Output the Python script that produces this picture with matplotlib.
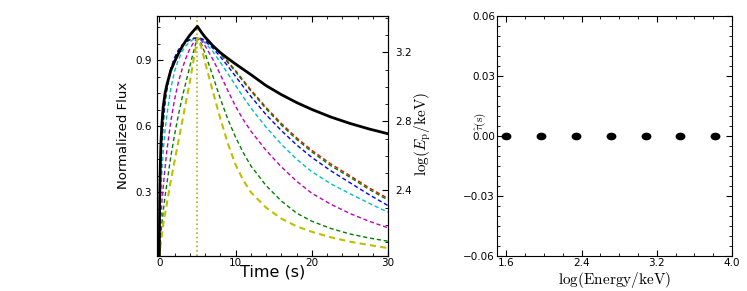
import matplotlib
matplotlib.use("Agg")
import matplotlib.pyplot as plt
from matplotlib.ticker import MultipleLocator
from matplotlib.markers import MarkerStyle
from matplotlib.transforms import Affine2D

plt.rcParams['mathtext.fontset'] = 'cm'
plt.rcParams['font.family'] = ['DejaVu Sans']

# ---------------- podaci (ocitano sa slike) ----------------
peak_time = 5.0

# vrijeme za krivulje svjetlosti
t_curve = [0, 0.05, 0.1, 0.2, 0.35, 0.5, 0.75, 1, 1.5, 2, 2.5, 3, 3.5, 4, 4.5,
           5, 5.5, 6, 7, 8, 9, 10, 11, 12, 14, 16, 18, 20, 22.5, 25, 27.5, 30]

flux_red = [0, 0.18, 0.30, 0.42, 0.55, 0.63, 0.72, 0.78, 0.86, 0.91, 0.945,
            0.968, 0.983, 0.993, 0.998, 1.0, 0.998, 0.99, 0.965, 0.93, 0.892,
            0.852, 0.808, 0.765, 0.685, 0.612, 0.547, 0.49, 0.428, 0.375,
            0.32, 0.271]
flux_green1 = [0, 0.16, 0.27, 0.39, 0.52, 0.60, 0.70, 0.765, 0.85, 0.90, 0.94,
               0.965, 0.981, 0.992, 0.998, 1.0, 0.997, 0.988, 0.962, 0.927,
               0.888, 0.847, 0.803, 0.76, 0.679, 0.605, 0.54, 0.483, 0.42,
               0.368, 0.313, 0.264]
flux_blue = [0, 0.18, 0.30, 0.42, 0.55, 0.63, 0.72, 0.78, 0.86, 0.91, 0.945,
             0.968, 0.983, 0.993, 0.998, 1.0, 0.996, 0.985, 0.955, 0.915,
             0.872, 0.826, 0.78, 0.735, 0.652, 0.58, 0.515, 0.458, 0.397,
             0.343, 0.289, 0.239]
flux_cyan = [0, 0.10, 0.18, 0.29, 0.40, 0.48, 0.58, 0.65, 0.77, 0.85, 0.90,
             0.94, 0.965, 0.983, 0.995, 1.0, 0.993, 0.978, 0.94, 0.89, 0.838,
             0.785, 0.733, 0.683, 0.595, 0.518, 0.45, 0.393, 0.338, 0.293,
             0.25, 0.209]
flux_magenta = [0, 0.05, 0.10, 0.18, 0.26, 0.32, 0.41, 0.49, 0.62, 0.72, 0.80,
                0.86, 0.91, 0.95, 0.98, 1.0, 0.99, 0.965, 0.905, 0.835, 0.76,
                0.69, 0.63, 0.578, 0.49, 0.415, 0.35, 0.295, 0.245, 0.203,
                0.168, 0.138]
flux_green2 = [0, 0.03, 0.06, 0.11, 0.16, 0.21, 0.28, 0.34, 0.46, 0.56, 0.65,
               0.73, 0.80, 0.87, 0.94, 1.0, 0.975, 0.93, 0.83, 0.725, 0.63,
               0.55, 0.48, 0.42, 0.33, 0.26, 0.205, 0.168, 0.135, 0.11,
               0.092, 0.077]
flux_yellow = [0, 0.02, 0.04, 0.07, 0.11, 0.15, 0.20, 0.25, 0.35, 0.44, 0.53,
               0.62, 0.71, 0.80, 0.90, 1.0, 0.96, 0.89, 0.76, 0.635, 0.52,
               0.425, 0.355, 0.30, 0.23, 0.18, 0.145, 0.12, 0.095, 0.075,
               0.06, 0.046]

krivulje = [flux_red, flux_green1, flux_blue, flux_cyan,
            flux_magenta, flux_green2, flux_yellow]
boje = ['r', 'g', 'b', 'c', 'm', 'g', 'y']

# log(Ep/keV) - crna krivulja
t_ep = [0, 0.02, 0.05, 0.1, 0.2, 0.3, 0.5, 0.75, 1, 1.5, 2, 2.5, 3, 3.5, 4,
        4.5, 5, 5.5, 6, 7, 8, 9, 10, 12, 14, 16, 18, 20, 22.5, 25, 27.5, 30]
log_ep = [2.019, 2.190, 2.343, 2.487, 2.655, 2.759, 2.880, 2.961, 3.013,
          3.094, 3.146, 3.192, 3.233, 3.268, 3.299, 3.325, 3.350, 3.317,
          3.288, 3.239, 3.198, 3.164, 3.132, 3.071, 3.007, 2.955, 2.909,
          2.869, 2.825, 2.788, 2.756, 2.728]

# desni panel: kasnjenje po energiji
log_energy = [1.60, 1.97, 2.34, 2.71, 3.08, 3.45, 3.82]
tau_hat = [0.0, 0.0, 0.0, 0.0, 0.0, 0.0, 0.0]

# ---------------- crtanje ----------------
fig = plt.figure(figsize=(7.47, 2.91), dpi=100)

ax1 = fig.add_axes([0.2102, 0.1203, 0.3092, 0.8247])
ax1b = ax1.twinx()

for flux, boja in zip(krivulje, boje):
    lw = 1.5 if boja == 'y' else 1.0
    ax1.plot(t_curve, flux, color=boja, ls=(0, (3, 2)), lw=lw)

ax1.axvline(peak_time, color='#b0b020', ls=':', lw=1.2)
ax1b.plot(t_ep, log_ep, color='k', lw=2.0)

ax1.set_xlim(-0.3, 30)
ax1.set_ylim(0.01, 1.1)
ax1b.set_ylim(2.02, 3.41)

ax1.set_xticks([0, 10, 20, 30])
ax1.set_yticks([0.3, 0.6, 0.9])
ax1.xaxis.set_minor_locator(MultipleLocator(2))
ax1.yaxis.set_minor_locator(MultipleLocator(0.075))
ax1b.set_yticks([2.4, 2.8, 3.2])
ax1b.yaxis.set_minor_locator(MultipleLocator(0.1))

ax1.tick_params(which='both', direction='in', top=True, right=False,
                labelsize=7.5)
ax1.tick_params(axis='x', pad=1.5)
ax1.tick_params(axis='y', pad=3.5)
ax1.tick_params(which='major', length=4)
ax1.tick_params(which='minor', length=2)
ax1b.tick_params(which='both', direction='in', labelsize=7.5, pad=5)
ax1b.tick_params(which='major', length=4)
ax1b.tick_params(which='minor', length=2)

ax1.set_xlabel("Time (s)", fontsize=11.5)
ax1.xaxis.set_label_coords(0.499, -0.035)
ax1.set_ylabel("Normalized Flux", fontsize=9.5)
ax1.yaxis.set_label_coords(-0.117, 0.502)
ax1b.set_ylabel(r'$\log(E_{\rm p}/{\rm keV})$', fontsize=11)
ax1b.yaxis.set_label_coords(1.108, 0.508)

# desni panel
ax2 = fig.add_axes([0.6653, 0.1203, 0.3146, 0.8247])
elipsa = MarkerStyle('o', transform=Affine2D().scale(1.35, 1.0))
ax2.plot(log_energy, tau_hat, ls='none', marker=elipsa, ms=4.5,
         color='k', mec='k')
ax2.set_xlim(1.5, 4.0)
ax2.set_ylim(-0.06, 0.06)
ax2.set_xticks([1.6, 2.4, 3.2, 4.0])
ax2.set_yticks([-0.06, -0.03, 0.0, 0.03, 0.06])
ax2.xaxis.set_minor_locator(MultipleLocator(0.2))
ax2.yaxis.set_minor_locator(MultipleLocator(0.005))
ax2.tick_params(which='both', direction='in', top=True, right=True,
                labelsize=7.5)
ax2.tick_params(axis='x', pad=1.5)
ax2.tick_params(axis='y', pad=1.5)
ax2.tick_params(which='major', length=4)
ax2.tick_params(which='minor', length=2)
ax2.set_xlabel(r'$\log(\mathrm{Energy/keV})$', fontsize=11)
ax2.xaxis.set_label_coords(0.5, -0.06)
ax2.set_ylabel(r'$\hat{\tau}(\mathrm{s})$', fontsize=8)
ax2.yaxis.set_label_coords(-0.038, 0.56)

fig.savefig("out.png", dpi=100)
